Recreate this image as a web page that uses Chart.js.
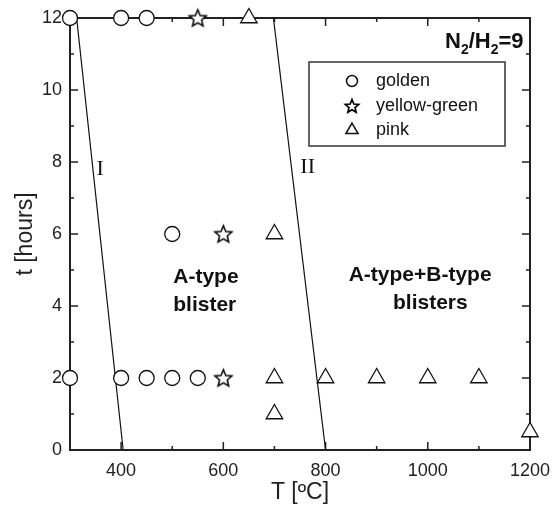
<!DOCTYPE html>
<html>
<head>
<meta charset="utf-8">
<script src="https://cdn.jsdelivr.net/npm/chart.js@4"></script>
<style>
html,body{margin:0;padding:0;background:#fff;}
#wrap{width:553px;height:513px;position:relative;}
</style>
</head>
<body>
<div id="wrap"><canvas id="c" width="553" height="513"></canvas></div>
<script>
// ---- data ----
const goldenT = [300, 400, 450, 500, 300, 400, 450, 500, 550];
const goldenH = [12, 12, 12, 6, 2, 2, 2, 2, 2];
const yellowT = [550, 600, 600];
const yellowH = [12, 6, 2];
const pinkT = [650, 700, 700, 700, 800, 900, 1000, 1100, 1200];
const pinkH = [12, 6, 2, 1, 2, 2, 2, 2, 0.5];
const lineIT = [313, 404];
const lineIH = [12, 0];
const lineIIT = [698, 800];
const lineIIH = [12, 0];
const xTickLabels = [400, 600, 800, 1000, 1200];
const yTickLabels = [0, 2, 4, 6, 8, 10, 12];
const legendLabels = ['golden', 'yellow-green', 'pink'];

const pts = (xs, ys) => xs.map((x, i) => ({x: x, y: ys[i]}));

function starCanvas(r, lw) {
  const s = Math.ceil(r * 2 + lw * 2 + 2);
  const cv = document.createElement('canvas');
  cv.width = s; cv.height = s;
  const g = cv.getContext('2d');
  const cx = s / 2, cy = s / 2 + r * 0.08;
  g.beginPath();
  for (let i = 0; i < 10; i++) {
    const rr = i % 2 === 0 ? r : r * 0.45;
    const a = -Math.PI / 2 + i * Math.PI / 5;
    const px = cx + rr * Math.cos(a), py = cy + rr * Math.sin(a);
    if (i === 0) g.moveTo(px, py); else g.lineTo(px, py);
  }
  g.closePath();
  g.fillStyle = '#fff';
  g.fill();
  g.lineWidth = lw;
  g.strokeStyle = '#000';
  g.lineJoin = 'miter';
  g.stroke();
  return cv;
}
const starBig = starCanvas(9, 1.5);
const starSmall = starCanvas(7, 1.7);

const SANS = '"Liberation Sans", Arial, Helvetica, sans-serif';

const frame = {
  id: 'frame',
  beforeDatasetsDraw(chart) {
    const ctx = chart.ctx;
    const xs = chart.scales.x, ys = chart.scales.y;
    const a = chart.chartArea;
    ctx.save();
    ctx.strokeStyle = '#222';
    ctx.lineWidth = 1.5;
    for (let v = 300; v <= 1200; v += 100) {
      const px = xs.getPixelForValue(v);
      const L = v % 200 === 0 ? 8 : 4;
      ctx.beginPath();
      ctx.moveTo(px, a.bottom); ctx.lineTo(px, a.bottom - L);
      ctx.moveTo(px, a.top); ctx.lineTo(px, a.top + L);
      ctx.stroke();
    }
    for (let v = 0; v <= 12; v += 1) {
      const py = ys.getPixelForValue(v);
      const L = v % 2 === 0 ? 8 : 4;
      ctx.beginPath();
      ctx.moveTo(a.left, py); ctx.lineTo(a.left + L, py);
      ctx.moveTo(a.right, py); ctx.lineTo(a.right - L, py);
      ctx.stroke();
    }
    ctx.lineWidth = 2;
    ctx.strokeRect(a.left, a.top, a.right - a.left, a.bottom - a.top);
    ctx.restore();
  }
};

const overlay = {
  id: 'overlay',
  afterDraw(chart) {
    const ctx = chart.ctx;
    const xs = chart.scales.x, ys = chart.scales.y;
    ctx.save();
    // roman numerals
    ctx.fillStyle = '#111';
    ctx.font = '22px "Liberation Serif", "Times New Roman", serif';
    ctx.textAlign = 'center';
    ctx.textBaseline = 'middle';
    ctx.fillText('I', xs.getPixelForValue(359), ys.getPixelForValue(7.8));
    ctx.fillText('II', xs.getPixelForValue(765), ys.getPixelForValue(7.85));

    // region labels
    ctx.font = 'bold 21px ' + SANS;
    ctx.textAlign = 'left';
    ctx.fillText('A-type', xs.getPixelForValue(502), ys.getPixelForValue(4.8));
    ctx.fillText('blister', xs.getPixelForValue(502), ys.getPixelForValue(4.02));
    ctx.textAlign = 'center';
    ctx.fillText('A-type+B-type', xs.getPixelForValue(985), ys.getPixelForValue(4.85));
    ctx.fillText('blisters', xs.getPixelForValue(1005), ys.getPixelForValue(4.08));

    // N2/H2=9
    ctx.textAlign = 'left';
    ctx.textBaseline = 'alphabetic';
    let x = 445;
    const base = 48;
    const big = 'bold 22px ' + SANS, small = 'bold 14px ' + SANS;
    const parts = [['N', big, 0], ['2', small, 6], ['/H', big, 0], ['2', small, 6], ['=9', big, 0]];
    for (const [t, f, dy] of parts) {
      ctx.font = f;
      ctx.fillText(t, x, base + dy);
      x += ctx.measureText(t).width;
    }

    // legend
    ctx.lineWidth = 1.5;
    ctx.strokeStyle = '#333';
    ctx.strokeRect(309, 62, 196, 84);
    const rows = [81, 106, 130];
    ctx.font = '18px ' + SANS;
    ctx.textBaseline = 'middle';
    ctx.textAlign = 'left';
    legendLabels.forEach((lab, i) => {
      const y = rows[i], mx = 352;
      ctx.lineWidth = 1.5;
      ctx.strokeStyle = '#111';
      ctx.fillStyle = '#fff';
      if (i === 0) {
        Chart.helpers.drawPoint(ctx, {pointStyle: 'circle', radius: 5.5, borderWidth: 1.5}, mx, y);
      } else if (i === 1) {
        Chart.helpers.drawPoint(ctx, {pointStyle: starSmall, radius: 7}, mx, y);
      } else {
        Chart.helpers.drawPoint(ctx, {pointStyle: 'triangle', radius: 7, borderWidth: 1.5}, mx, y);
      }
      ctx.fillStyle = '#111';
      ctx.fillText(lab, 376, y);
    });
    ctx.restore();
  }
};

const pointCommon = {
  showLine: false,
  backgroundColor: '#fff',
  borderColor: '#111',
  borderWidth: 1.3,
  clip: false
};

new Chart(document.getElementById('c'), {
  type: 'scatter',
  data: {
    datasets: [
      {label: 'line I', data: pts(lineIT, lineIH), showLine: true, borderColor: '#111', borderWidth: 1.2, pointRadius: 0, fill: false, order: 5},
      {label: 'line II', data: pts(lineIIT, lineIIH), showLine: true, borderColor: '#111', borderWidth: 1.2, pointRadius: 0, fill: false, order: 5},
      Object.assign({label: legendLabels[0], data: pts(goldenT, goldenH), pointStyle: 'circle', pointRadius: 7.5, order: 1}, pointCommon),
      Object.assign({label: legendLabels[1], data: pts(yellowT, yellowH), pointStyle: starBig, pointRadius: 9, order: 1}, pointCommon),
      Object.assign({label: legendLabels[2], data: pts(pinkT, pinkH), pointStyle: 'triangle', pointRadius: 9.5, order: 1}, pointCommon)
    ]
  },
  options: {
    responsive: false,
    animation: false,
    events: [],
    layout: {padding: {left: 12, right: 23, top: 18, bottom: 0}},
    plugins: {legend: {display: false}, tooltip: {enabled: false}},
    scales: {
      x: {
        type: 'linear', min: 300, max: 1200,
        afterFit(s) { s.height = 63; s.paddingLeft = 0; s.paddingRight = 0; },
        grid: {display: false, drawTicks: false},
        border: {display: false},
        ticks: {
          stepSize: 100, autoSkip: false, maxRotation: 0, padding: 10,
          color: '#222', font: {family: SANS, size: 18},
          callback: v => xTickLabels.includes(v) ? String(v) : ''
        },
        title: {display: true, text: 'T [ºC]', color: '#222', font: {family: SANS, size: 23}, padding: {top: 2, bottom: 7}}
      },
      y: {
        type: 'linear', min: 0, max: 12,
        afterFit(s) { s.width = 58; s.paddingTop = 0; s.paddingBottom = 0; },
        grid: {display: false, drawTicks: false},
        border: {display: false},
        ticks: {
          stepSize: 1, autoSkip: false, padding: 8,
          color: '#222', font: {family: SANS, size: 18},
          callback: v => yTickLabels.includes(v) ? String(v) : ''
        },
        title: {display: true, text: 't [hours]', color: '#222', font: {family: SANS, size: 23}, padding: {top: 0, bottom: 4}}
      }
    }
  },
  plugins: [frame, overlay]
});
</script>
</body>
</html>
